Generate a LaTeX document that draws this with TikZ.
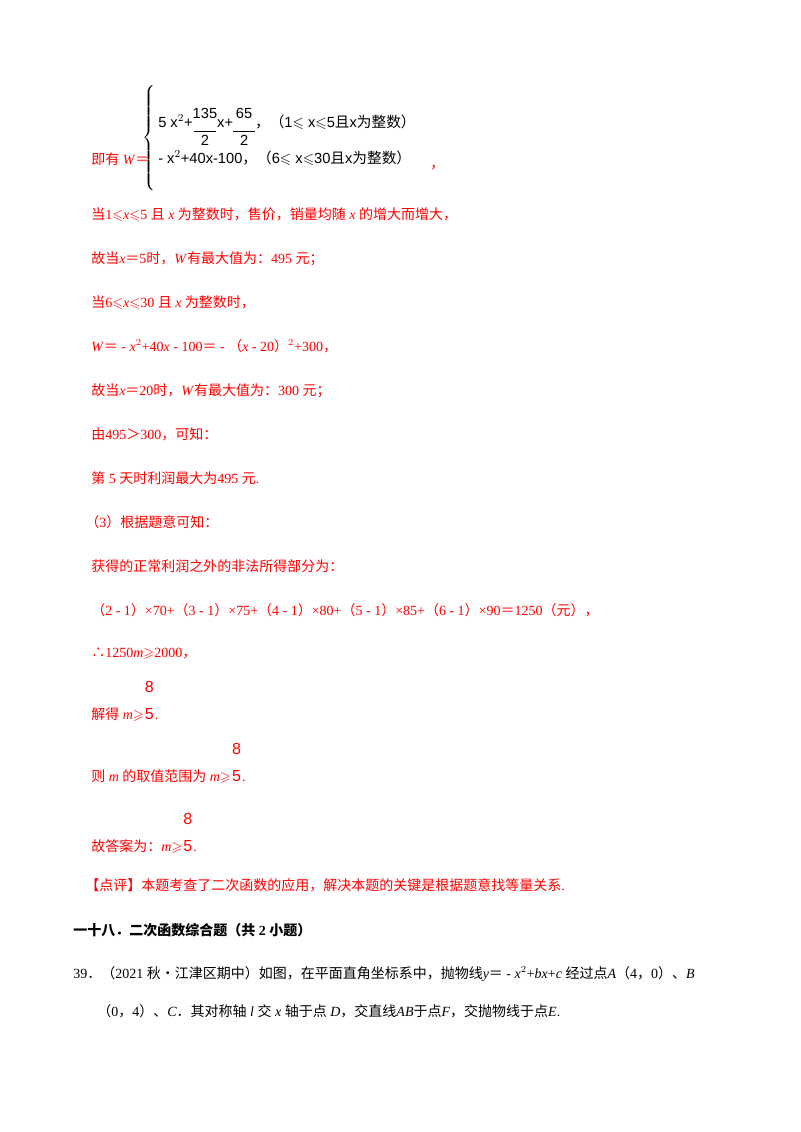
\documentclass[tikz,border=0pt]{standalone}
\usepackage{amssymb}
\usepackage{fontspec}
\setmainfont{Liberation Serif}
\newfontfamily\zhf{Noto Sans CJK SC}
\newfontfamily\sansf{Liberation Sans}
\newcommand{\zh}[1]{{\zhf #1}}
\newcommand{\vv}[1]{\textit{#1}}
\newcommand{\fr}[2]{{\sansf\fontsize{12}{13}\selectfont\begin{tabular}[b]{@{}c@{}}#1\\[-3pt]\rule{0.7em}{0pt}\\[-3pt]#2\end{tabular}}}
\newcommand{\sfr}[2]{\raisebox{-0.35em}{\sansf\begin{tabular}{@{}c@{}}#1\\[-3pt]\rule{1.5em}{0.4pt}\\[-3pt]#2\end{tabular}}}
\definecolor{red}{RGB}{255,0,0}
\begin{document}
\begin{tikzpicture}[x=0.75pt,y=-0.75pt,
  t/.style={anchor=base west,inner sep=0,text=red,font=\fontsize{10.5}{12}\selectfont},
  k/.style={anchor=base west,inner sep=0,text=black,font=\fontsize{10.5}{12}\selectfont},
  f/.style={anchor=base west,inner sep=0,text=black,font=\sansf\fontsize{11}{13}\selectfont}]
\useasboundingbox (0,0) rectangle (800,1132);
\node[t] (l0) at (91,164) {\zh{即有} \vv{W}\zh{＝}};
\node[inner sep=0,font=\fontsize{11}{11}\selectfont] (br) at (150,137) {$\left\{\vphantom{\rule{0pt}{44pt}}\right.$};
\node[f] (r1) at (158,127) {5 x$^{2}$+\sfr{135}{2}x+\sfr{65}{2}\zh{，（}1$\leqslant$ x$\leqslant$5\zh{且}x\zh{为整数）}};
\node[f] (r2) at (158,163) {- x$^{2}$+40x-100\zh{，（}6$\leqslant$ x$\leqslant$30\zh{且}x\zh{为整数）}};
\node[t] (r3) at (430,168) {\zh{，}};
\node[t] (a1) at (91,219) {\zh{当}1$\leqslant$\vv{x}$\leqslant$5 \zh{且} \vv{x} \zh{为整数时，售价，销量均随} \vv{x} \zh{的增大而增大，}};
\node[t] (a2) at (91,263) {\zh{故当}\vv{x}\zh{＝}5\zh{时，}\vv{W}\zh{有最大值为：}495 \zh{元；}};
\node[t] (a3) at (91,307) {\zh{当}6$\leqslant$\vv{x}$\leqslant$30 \zh{且} \vv{x} \zh{为整数时，}};
\node[t] (a4) at (91,351) {\vv{W}\zh{＝} - \vv{x}$^{2}$+40\vv{x} - 100\zh{＝} - \zh{（}\vv{x} - 20\zh{）}$^{2}$+300\zh{，}};
\node[t] (a5) at (91,395) {\zh{故当}\vv{x}\zh{＝}20\zh{时，}\vv{W}\zh{有最大值为：}300 \zh{元；}};
\node[t] (a6) at (91,439) {\zh{由}495\zh{＞}300\zh{，可知：}};
\node[t] (a7) at (91,483) {\zh{第} 5 \zh{天时利润最大为}495 \zh{元}.};
\node[t] (a8) at (85,527) {\zh{（}3\zh{）根据题意可知：}};
\node[t] (a9) at (91,571) {\zh{获得的正常利润之外的非法所得部分为：}};
\node[t] (a10) at (91,615) {\zh{（}2 - 1\zh{）}×70+\zh{（}3 - 1\zh{）}×75+\zh{（}4 - 1\zh{）}×80+\zh{（}5 - 1\zh{）}×85+\zh{（}6 - 1\zh{）}×90\zh{＝}1250\zh{（元），}};
\node[t] (a11) at (91,657) {\zh{∴}1250\vv{m}$\geqslant$2000\zh{，}};
\node[t] (a12) at (91,719) {\zh{解得} \vv{m}$\geqslant$\fr{8}{5}.};
\node[t] (a13) at (91,781) {\zh{则} \vv{m} \zh{的取值范围为} \vv{m}$\geqslant$\fr{8}{5}.};
\node[t] (a14) at (91,851) {\zh{故答案为：}\vv{m}$\geqslant$\fr{8}{5}.};
\node[t] (a15) at (85,890) {\zh{【点评】本题考查了二次函数的应用，解决本题的关键是根据题意找等量关系}.};
\node[k] (b1) at (73,935) {\bfseries\zh{一十八．二次函数综合题（共} 2 \zh{小题）}};
\node[k] (b2) at (73,978) {39\zh{．（}2021 \zh{秋•江津区期中）如图，在平面直角坐标系中，抛物线}\vv{y}\zh{＝} - \vv{x}$^{2}$+\vv{bx}+\vv{c} \zh{经过点}\vv{A}\zh{（}4\zh{，}0\zh{）、}\vv{B}};
\node[k] (b3) at (97,1016) {\zh{（}0\zh{，}4\zh{）、}\vv{C}\zh{．其对称轴} \vv{l} \zh{交} \vv{x} \zh{轴于点} \vv{D}\zh{，交直线}\vv{AB}\zh{于点}\vv{F}\zh{，交抛物线于点}\vv{E}.};
\end{tikzpicture}
\end{document}
